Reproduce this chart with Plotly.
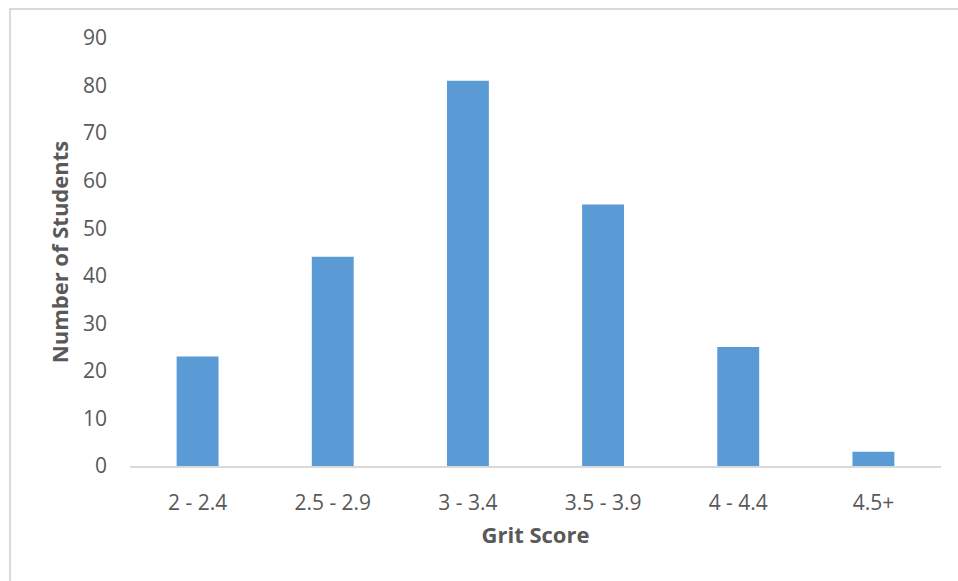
import plotly.graph_objects as go

# Grit score bins and how many students fall in each
grit_bins = ["2 - 2.4", "2.5 - 2.9", "3 - 3.4", "3.5 - 3.9", "4 - 4.4", "4.5+"]
student_counts = [23, 44, 81, 55, 25, 3]
y_ticks = [0, 10, 20, 30, 40, 50, 60, 70, 80, 90]

text_color = "#595959"
font_family = "Open Sans, Noto Sans, sans-serif"

fig = go.Figure(
    go.Bar(
        x=grit_bins,
        y=student_counts,
        marker=dict(color="#5B9BD5", line=dict(width=0)),
    )
)

fig.update_layout(
    width=958,
    height=581,
    margin=dict(l=130, r=17, t=38, b=115),
    paper_bgcolor="white",
    plot_bgcolor="white",
    bargap=0.69,
    showlegend=False,
    font=dict(family=font_family, color=text_color, size=21),
    shapes=[
        # light frame around the chart area
        dict(
            type="rect", xref="paper", yref="paper",
            x0=-0.148, x1=1.2, y0=-0.5, y1=1.068,
            line=dict(color="#D9D9D9", width=2),
            fillcolor="rgba(0,0,0,0)", layer="below",
        )
    ],
)

fig.update_xaxes(
    showgrid=False,
    showline=True,
    linecolor="#D9D9D9",
    linewidth=2,
    ticks="",
    ticklabelstandoff=17,
    tickfont=dict(size=21, color=text_color),
    title=dict(
        text="<b>Grit Score</b>",
        font=dict(size=22, color=text_color),
        standoff=12,
    ),
)

fig.update_yaxes(
    range=[0, 90],
    tickvals=y_ticks,
    showgrid=False,
    zeroline=False,
    showline=False,
    ticks="",
    ticklabelstandoff=22,
    tickfont=dict(size=21, color=text_color),
    title=dict(
        text="<b>Number of Students</b>",
        font=dict(size=22, color=text_color),
        standoff=8,
    ),
)

fig.write_html("out.html")
